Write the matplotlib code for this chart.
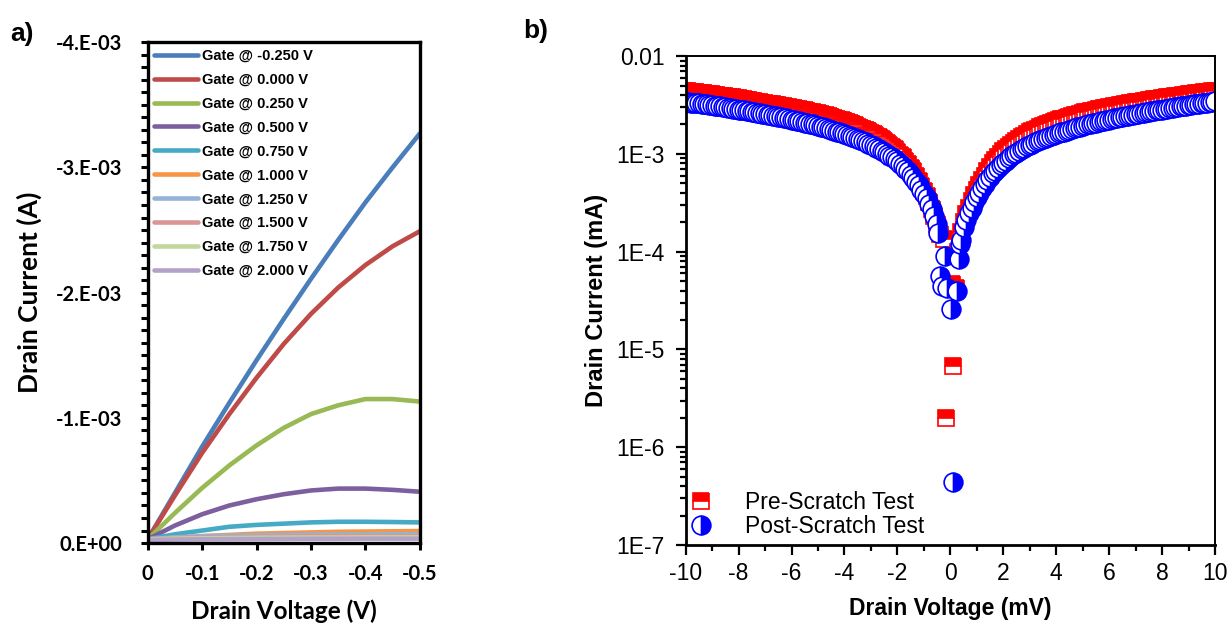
import numpy as np
import matplotlib
matplotlib.use('Agg')
import matplotlib.pyplot as plt
from matplotlib.ticker import MultipleLocator, FuncFormatter, LogLocator, FixedLocator, NullFormatter

plt.rcParams['axes.unicode_minus'] = False

# ---------------- a) output characteristics ----------------
drain_v = [0, -0.05, -0.1, -0.15, -0.2, -0.25, -0.3, -0.35, -0.4, -0.45, -0.5]

# drain current magnitude in units of 1e-3 A (sign flipped when plotted)
gate_m0250 = [0.03, 0.40, 0.77, 1.12, 1.46, 1.79, 2.11, 2.42, 2.72, 3.00, 3.27]
gate_0000 = [0.03, 0.38, 0.72, 1.03, 1.32, 1.59, 1.83, 2.04, 2.22, 2.37, 2.49]
gate_0250 = [0.03, 0.24, 0.44, 0.62, 0.78, 0.92, 1.03, 1.10, 1.15, 1.15, 1.13]
gate_0500 = [0.03, 0.14, 0.23, 0.30, 0.35, 0.39, 0.42, 0.435, 0.435, 0.425, 0.41]
gate_0750 = [0.03, 0.07, 0.10, 0.13, 0.145, 0.155, 0.165, 0.17, 0.17, 0.168, 0.165]
gate_1000 = [0.02, 0.04, 0.055, 0.065, 0.075, 0.08, 0.085, 0.09, 0.092, 0.094, 0.096]
gate_1250 = [0.03, 0.045, 0.055, 0.06, 0.063, 0.065, 0.067, 0.068, 0.069, 0.07, 0.07]
gate_1500 = [0.03, 0.04, 0.045, 0.048, 0.05, 0.052, 0.053, 0.054, 0.055, 0.055, 0.055]
gate_1750 = [0.03, 0.035, 0.038, 0.04, 0.042, 0.043, 0.044, 0.044, 0.045, 0.045, 0.045]
gate_2000 = [0.025, 0.028, 0.03, 0.031, 0.032, 0.033, 0.034, 0.034, 0.035, 0.035, 0.035]

gate_curves = [gate_m0250, gate_0000, gate_0250, gate_0500, gate_0750,
               gate_1000, gate_1250, gate_1500, gate_1750, gate_2000]
gate_labels = ['Gate @ -0.250 V', 'Gate @ 0.000 V', 'Gate @ 0.250 V', 'Gate @ 0.500 V',
               'Gate @ 0.750 V', 'Gate @ 1.000 V', 'Gate @ 1.250 V', 'Gate @ 1.500 V',
               'Gate @ 1.750 V', 'Gate @ 2.000 V']
gate_colors = ['#4a7ebb', '#be4b48', '#98b954', '#7d5fa0', '#46aac5',
               '#f59547', '#95b3d7', '#d99694', '#c3d69b', '#b3a2c7']

# ---------------- b) scratch test, log scale ----------------
# sweep branches, 0.1 mV step
sweep_left = np.round(np.arange(-10, -0.45, 0.1), 1)
sweep_right = -sweep_left[::-1]

# currents in units of 1e-3
pre_left = [4.40, 4.37, 4.33, 4.30, 4.26, 4.23, 4.19, 4.16, 4.12, 4.09,
            4.05, 4.02, 3.98, 3.95, 3.91, 3.88, 3.84, 3.81, 3.77, 3.74,
            3.70, 3.66, 3.62, 3.58, 3.54, 3.50, 3.46, 3.42, 3.38, 3.34,
            3.30, 3.27, 3.23, 3.20, 3.16, 3.13, 3.09, 3.06, 3.02, 2.99,
            2.95, 2.92, 2.88, 2.85, 2.81, 2.78, 2.74, 2.71, 2.67, 2.64,
            2.60, 2.56, 2.51, 2.47, 2.42, 2.38, 2.33, 2.29, 2.24, 2.20,
            2.15, 2.10, 2.05, 2.00, 1.95, 1.90, 1.85, 1.80, 1.75, 1.70,
            1.65, 1.59, 1.53, 1.47, 1.41, 1.35, 1.29, 1.23, 1.17, 1.11,
            1.05, 0.98, 0.92, 0.85, 0.79, 0.72, 0.66, 0.59, 0.53, 0.47,
            0.42, 0.37, 0.32, 0.27, 0.23, 0.19]
pre_right = [0.20, 0.24, 0.28, 0.33, 0.38, 0.43, 0.48, 0.54, 0.60, 0.67,
             0.73, 0.80, 0.86, 0.93, 0.99, 1.06, 1.12, 1.18, 1.24, 1.30,
             1.36, 1.42, 1.48, 1.54, 1.60, 1.66, 1.71, 1.76, 1.81, 1.86,
             1.91, 1.96, 2.01, 2.06, 2.11, 2.16, 2.20, 2.25, 2.29, 2.34,
             2.38, 2.43, 2.47, 2.52, 2.56, 2.61, 2.65, 2.69, 2.73, 2.77,
             2.81, 2.85, 2.89, 2.93, 2.97, 3.01, 3.04, 3.08, 3.11, 3.15,
             3.18, 3.22, 3.25, 3.29, 3.32, 3.36, 3.39, 3.43, 3.46, 3.50,
             3.53, 3.57, 3.60, 3.64, 3.67, 3.71, 3.74, 3.78, 3.81, 3.85,
             3.88, 3.92, 3.95, 3.99, 4.02, 4.06, 4.09, 4.13, 4.16, 4.20,
             4.23, 4.27, 4.30, 4.34, 4.37, 4.41]
pre_mid_v = [-0.4, -0.25, -0.17, 0.05, 0.1, 0.2, 0.3, 0.4]
pre_mid_i = [1.5e-4, 1.35e-4, 2.0e-6, 4.7e-5, 6.8e-6, 4.2e-5, 1.2e-4, 1.6e-4]

post_left = [3.40, 3.38, 3.35, 3.33, 3.30, 3.28, 3.25, 3.23, 3.20, 3.17,
             3.14, 3.11, 3.08, 3.05, 3.02, 2.99, 2.96, 2.93, 2.90, 2.87,
             2.84, 2.81, 2.78, 2.75, 2.72, 2.69, 2.66, 2.63, 2.60, 2.57,
             2.54, 2.51, 2.48, 2.45, 2.42, 2.39, 2.36, 2.33, 2.30, 2.27,
             2.24, 2.21, 2.18, 2.15, 2.12, 2.09, 2.06, 2.03, 2.00, 1.97,
             1.94, 1.90, 1.87, 1.83, 1.80, 1.76, 1.73, 1.69, 1.66, 1.62,
             1.59, 1.55, 1.52, 1.48, 1.45, 1.41, 1.38, 1.34, 1.31, 1.27,
             1.24, 1.20, 1.16, 1.12, 1.08, 1.04, 1.00, 0.96, 0.92, 0.88,
             0.84, 0.79, 0.75, 0.70, 0.66, 0.61, 0.57, 0.52, 0.48, 0.43,
             0.39, 0.35, 0.31, 0.27, 0.23, 0.19]
post_right = [0.18, 0.21, 0.25, 0.28, 0.32, 0.36, 0.40, 0.45, 0.49, 0.54,
              0.58, 0.63, 0.67, 0.72, 0.76, 0.81, 0.85, 0.90, 0.94, 0.99,
              1.03, 1.07, 1.11, 1.15, 1.19, 1.23, 1.27, 1.31, 1.34, 1.38,
              1.41, 1.45, 1.48, 1.52, 1.55, 1.59, 1.62, 1.66, 1.69, 1.73,
              1.76, 1.80, 1.83, 1.87, 1.90, 1.94, 1.97, 2.00, 2.03, 2.06,
              2.09, 2.12, 2.15, 2.18, 2.21, 2.24, 2.27, 2.30, 2.33, 2.36,
              2.39, 2.42, 2.45, 2.48, 2.51, 2.54, 2.57, 2.60, 2.63, 2.66,
              2.69, 2.72, 2.75, 2.78, 2.81, 2.84, 2.87, 2.90, 2.93, 2.96,
              2.99, 3.02, 3.05, 3.08, 3.11, 3.14, 3.17, 3.20, 3.23, 3.26,
              3.29, 3.32, 3.35, 3.38, 3.41, 3.44]
post_mid_v = [-0.45, -0.4, -0.3, -0.21, -0.13, 0.02, 0.1, 0.25, 0.32, 0.36, 0.42]
post_mid_i = [1.55e-4, 5.6e-5, 4.5e-5, 9.1e-5, 4.2e-5, 2.6e-5, 4.4e-7, 4.0e-5,
              8.5e-5, 1.2e-4, 1.3e-4]

pre_v = np.concatenate([sweep_left, pre_mid_v, sweep_right])
pre_i = np.concatenate([np.array(pre_left) * 1e-3, pre_mid_i, np.array(pre_right) * 1e-3])
post_v = np.concatenate([sweep_left, post_mid_v, sweep_right])
post_i = np.concatenate([np.array(post_left) * 1e-3, post_mid_i, np.array(post_right) * 1e-3])

fig = plt.figure(figsize=(12.31, 6.30), dpi=100)

# ---- panel a ----
ax1 = fig.add_axes([0.120, 0.138, 0.221, 0.795])
for vals, lab, col in zip(gate_curves, gate_labels, gate_colors):
    ax1.plot(drain_v, -np.array(vals) * 1e-3, color=col, lw=3.3, label=lab,
             solid_capstyle='round')
ax1.set_xlim(0, -0.5)
ax1.set_ylim(0, -4e-3)
ax1.xaxis.set_major_locator(FixedLocator([0, -0.1, -0.2, -0.3, -0.4, -0.5]))
ax1.xaxis.set_major_formatter(FuncFormatter(lambda v, p: '0' if abs(v) < 1e-9 else '%.1f' % v))
ax1.yaxis.set_major_locator(FixedLocator([0, -1e-3, -2e-3, -3e-3, -4e-3]))
ax1.yaxis.set_minor_locator(MultipleLocator(1e-4))
ax1.yaxis.set_major_formatter(FuncFormatter(
    lambda v, p: '0.E+00' if abs(v) < 1e-12 else '%d.E-03' % round(v * 1e3)))
ax1.tick_params(axis='both', which='both', direction='out', width=2.2, labelsize=14.5)
ax1.tick_params(axis='x', which='major', length=5, pad=10)
ax1.tick_params(axis='y', which='major', length=5, pad=13)
ax1.tick_params(axis='y', which='minor', length=5)
for lab in ax1.get_xticklabels() + ax1.get_yticklabels():
    lab.set_family('Lato')
    lab.set_fontweight('bold')
for sp in ax1.spines.values():
    sp.set_linewidth(2.4)
ax1.set_xlabel('Drain Voltage (V)', family='Lato', fontweight='bold', fontsize=17.5, labelpad=11)
ax1.set_ylabel('Drain Current (A)', family='Lato', fontweight='bold', fontsize=19, labelpad=10)
ax1.legend(loc='upper left', bbox_to_anchor=(0.0, 1.0), frameon=False,
           prop={'family': 'Liberation Sans', 'weight': 'bold', 'size': 10.5},
           handlelength=3.0, handletextpad=0.3, labelspacing=0.68,
           borderaxespad=0.25, borderpad=0.2)
fig.text(0.008, 0.935, 'a)', family='Liberation Sans', fontweight='bold', fontsize=19)

# ---- panel b ----
ax2 = fig.add_axes([0.557, 0.135, 0.430, 0.776])
ax2.plot(pre_v, pre_i, ls='none', marker='s', ms=11.5, mec='#ff0000', mfc='#ff0000',
         mfcalt='white', fillstyle='top', mew=1.2, label='Pre-Scratch Test')
ax2.plot(post_v, post_i, ls='none', marker='o', ms=13.5, mec='#0000ff', mfc='#0000ff',
         mfcalt='white', fillstyle='right', mew=1.2, label='Post-Scratch Test')
ax2.set_yscale('log')
ax2.set_xlim(-10, 10)
ax2.set_ylim(1e-7, 1e-2)
ax2.xaxis.set_major_locator(MultipleLocator(2))
ax2.xaxis.set_minor_locator(MultipleLocator(1))
ax2.yaxis.set_major_locator(LogLocator(base=10, numticks=10))
ax2.yaxis.set_minor_locator(LogLocator(base=10, subs=np.arange(2, 10), numticks=20))
ax2.yaxis.set_minor_formatter(NullFormatter())
ax2.yaxis.set_major_formatter(FuncFormatter(
    lambda v, p: '0.01' if abs(v - 1e-2) < 1e-6 else '1E%d' % round(np.log10(v))))
ax2.tick_params(axis='both', which='both', direction='out', width=1.6,
                labelsize=16.5, top=False, right=False)
ax2.tick_params(axis='x', which='major', length=7, pad=5)
ax2.tick_params(axis='y', which='major', length=7, pad=8)
ax2.tick_params(axis='both', which='minor', length=4)
for lab in ax2.get_xticklabels() + ax2.get_yticklabels():
    lab.set_family('Liberation Sans')
ax2.spines['left'].set_linewidth(2.0)
ax2.spines['bottom'].set_linewidth(2.0)
ax2.spines['top'].set_linewidth(1.4)
ax2.spines['right'].set_linewidth(1.4)
ax2.set_xlabel('Drain Voltage (mV)', family='Liberation Sans', fontweight='bold',
               fontsize=16.5, labelpad=9)
ax2.set_ylabel('Drain Current (mA)', family='Liberation Sans', fontweight='bold',
               fontsize=17, labelpad=6)
ax2.legend(loc='lower left', bbox_to_anchor=(-0.01, 0.0), frameon=False,
           prop={'family': 'Liberation Sans', 'size': 16.5},
           handlelength=1.2, handletextpad=1.3, labelspacing=0.05,
           borderaxespad=0.1, borderpad=0.2)
fig.text(0.425, 0.94, 'b)', family='Liberation Sans', fontweight='bold', fontsize=19)

fig.savefig('out.png', dpi=100)
